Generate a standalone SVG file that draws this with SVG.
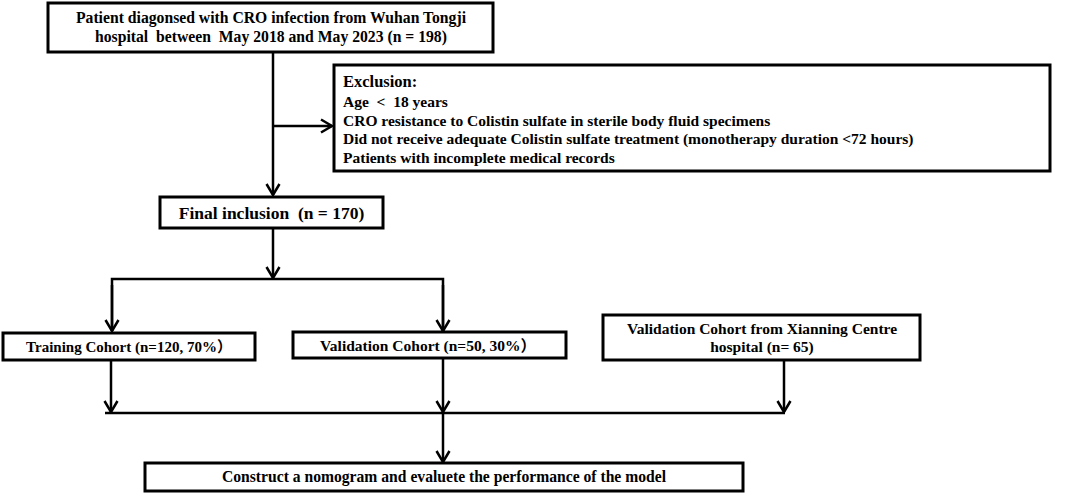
<svg xmlns="http://www.w3.org/2000/svg" width="1065" height="494" viewBox="0 0 1065 494">
<defs>
<style>
.box{fill:#fff;stroke:#000;stroke-width:3}
.t{font-family:"Liberation Serif","Times New Roman","Noto Sans CJK SC",serif;font-weight:bold;font-size:15.5px;fill:#000;white-space:pre}
.c{text-anchor:middle}
.ln{fill:none;stroke:#000;stroke-width:2.5}
</style>
<marker id="ah" viewBox="-13 -8 15 16" refX="0" refY="0" markerWidth="15" markerHeight="16" markerUnits="userSpaceOnUse" orient="auto">
<path d="M-11,-6.5 L0,0 L-11,6.5" fill="none" stroke="#000" stroke-width="2.5"/>
</marker>
</defs>
<rect width="1065" height="494" fill="#fff"/>
<g id="connectors">
<line class="ln" x1="273" y1="52" x2="273" y2="195" marker-end="url(#ah)"/>
<line class="ln" x1="273" y1="126" x2="332" y2="126" marker-end="url(#ah)"/>
<line class="ln" x1="273" y1="228" x2="273" y2="278" marker-end="url(#ah)"/>
<polyline class="ln" points="112,331 112,279 443,279 443,331"/>
<line class="ln" x1="112" y1="285" x2="112" y2="331" marker-end="url(#ah)"/>
<line class="ln" x1="443" y1="285" x2="443" y2="331" marker-end="url(#ah)"/>
<line class="ln" x1="111" y1="360" x2="111" y2="412" marker-end="url(#ah)"/>
<line class="ln" x1="443" y1="358" x2="443" y2="412" marker-end="url(#ah)"/>
<line class="ln" x1="784" y1="360" x2="784" y2="412" marker-end="url(#ah)"/>
<line class="ln" x1="105" y1="413" x2="785" y2="413"/>
<line class="ln" x1="443" y1="413" x2="443" y2="462" marker-end="url(#ah)"/>
</g>
<g id="node-patients">
<rect class="box" x="48" y="3" width="445" height="49"/>
<text class="t c" x="271" y="23" style="font-size:15.7px">Patient diagonsed with CRO infection from Wuhan Tongji</text>
<text class="t c" x="271" y="42" style="font-size:15.7px">hospital  between  May 2018 and May 2023 (n = 198)</text>
</g>
<g id="node-exclusion">
<rect class="box" x="334" y="65" width="716" height="106"/>
<text class="t" x="343" y="87" style="font-size:16.5px">Exclusion:</text>
<text class="t" x="343" y="107">Age  &lt;  18 years</text>
<text class="t" x="343" y="126">CRO resistance to Colistin sulfate in sterile body fluid specimens</text>
<text class="t" x="343" y="144">Did not receive adequate Colistin sulfate treatment (monotherapy duration &lt;72 hours)</text>
<text class="t" x="343" y="163">Patients with incomplete medical records</text>
</g>
<g id="node-final">
<rect class="box" x="160" y="197" width="223" height="31"/>
<text class="t c" x="271.5" y="219" style="font-size:17.5px">Final inclusion  (n = 170)</text>
</g>
<g id="node-training">
<rect class="box" x="3" y="333" width="252" height="27"/>
<text class="t c" x="129" y="352" style="font-size:15px">Training Cohort (n=120, 70%）</text>
</g>
<g id="node-validation">
<rect class="box" x="293" y="332" width="273" height="26"/>
<text class="t c" x="428" y="351">Validation Cohort (n=50, 30%）</text>
</g>
<g id="node-xianning">
<rect class="box" x="603" y="315" width="317" height="45"/>
<text class="t c" x="762" y="334">Validation Cohort from Xianning Centre</text>
<text class="t c" x="762" y="352">hospital (n= 65)</text>
</g>
<g id="node-construct">
<rect class="box" x="145" y="463" width="598" height="28"/>
<text class="t c" x="444" y="482" style="font-size:17px" textLength="444" lengthAdjust="spacingAndGlyphs">Construct a nomogram and evaluete the performance of the model</text>
</g>
</svg>
